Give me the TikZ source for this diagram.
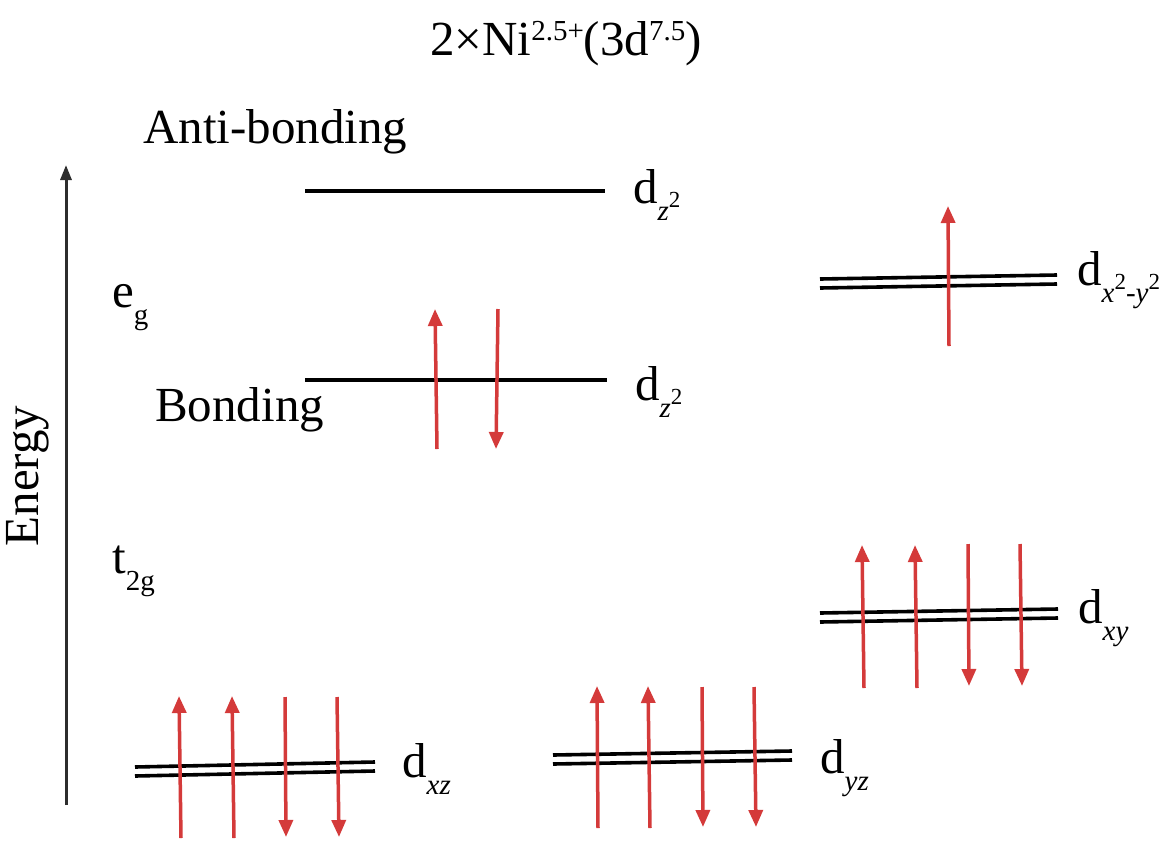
\documentclass[tikz,border=0pt]{standalone}
\usepackage{fontspec}
\setmainfont{Liberation Serif}
\usetikzlibrary{arrows.meta}
\definecolor{spin}{RGB}{212,58,58}
\definecolor{axisc}{RGB}{45,45,45}
\newcommand\bigf{\fontsize{49pt}{58pt}\selectfont}
\newcommand\subf{\fontsize{29pt}{32pt}\selectfont}
\newcommand\supf{\fontsize{29pt}{32pt}\selectfont}
\newcommand\sqf{\fontsize{23pt}{25pt}\selectfont}
\newcommand\sqtwo{\raisebox{0.45em}{\upshape\sqf 2}}
\newcommand\dorb[1]{d\raisebox{-0.36em}{\subf\itshape #1}}
\tikzset{
  lvl/.style={line width=4pt, black},
  dlvl/.style={line width=3.6pt, black},
  spinarrow/.style={spin, line width=3.5pt, -{Triangle[width=14pt,length=17pt]}},
  lbl/.style={anchor=base west, inner sep=0pt},
}
\begin{document}
\begin{tikzpicture}[x=1pt,y=-1pt,font=\bigf]
\useasboundingbox (0,0) rectangle (1171,847);
% title
\node[anchor=base, inner sep=0pt] (title) at (566,55)
  {2×Ni\raisebox{0.3em}{\supf 2.5+}(3d\raisebox{0.3em}{\supf 7.5})};
% energy axis
\coordinate (ax0) at (66,805);
\coordinate (ax1) at (66,165);
\draw[axisc, line width=3pt, -{Triangle[width=11pt,length=15pt]}] (ax0) -- (ax1);
\node[rotate=90, anchor=base, inner sep=0pt] (energy) at (38,476) {Energy};
\node[lbl] (eg) at (112,307) {e\raisebox{-0.36em}{\subf g}};
\node[lbl] (t2g) at (112,573) {t\raisebox{-0.36em}{\subf 2g}};
\node[lbl] (anti) at (143,143) {Anti-bonding};
\node[lbl] (bond) at (155,421) {Bonding};
% dz2 levels
\coordinate (a0) at (305,191); \coordinate (a1) at (605,191);
\draw[lvl] (a0) -- (a1);
\node[lbl] (lab1) at (633,203) {\dorb{z\sqtwo}};
\coordinate (b0) at (305,380); \coordinate (b1) at (607,380);
\draw[lvl] (b0) -- (b1);
\node[lbl] (lab2) at (635,400) {\dorb{z\sqtwo}};
\coordinate (bu0) at (437,449); \coordinate (bu1) at (435,309);
\coordinate (bd0) at (498,309); \coordinate (bd1) at (496,449);
\draw[spinarrow] (bu0) -- (bu1);
\draw[spinarrow] (bd0) -- (bd1);
% dx2-y2
\coordinate (c0) at (820,279); \coordinate (c1) at (1057,275);
\coordinate (c2) at (820,288); \coordinate (c3) at (1057,284);
\draw[dlvl] (c0) -- (c1);
\draw[dlvl] (c2) -- (c3);
\node[lbl] (lab3) at (1077,285) {\dorb{x\sqtwo-y\sqtwo}};
\coordinate (cu0) at (949,346); \coordinate (cu1) at (948,206);
\draw[spinarrow] (cu0) -- (cu1);
% dxy
\coordinate (e0) at (820,613); \coordinate (e1) at (1058,609);
\coordinate (e2) at (820,622); \coordinate (e3) at (1058,618);
\draw[dlvl] (e0) -- (e1);
\draw[dlvl] (e2) -- (e3);
\node[lbl] (lab4) at (1078,623) {\dorb{xy}};
\coordinate (eu0) at (864,688); \coordinate (eu1) at (862,545);
\coordinate (ev0) at (917,688); \coordinate (ev1) at (915,545);
\coordinate (ed0) at (968,544); \coordinate (ed1) at (969,686);
\coordinate (ee0) at (1020,544); \coordinate (ee1) at (1022,686);
\draw[spinarrow] (eu0) -- (eu1);
\draw[spinarrow] (ev0) -- (ev1);
\draw[spinarrow] (ed0) -- (ed1);
\draw[spinarrow] (ee0) -- (ee1);
% dxz
\coordinate (f0) at (135,767); \coordinate (f1) at (375,762);
\coordinate (f2) at (135,776); \coordinate (f3) at (375,771);
\draw[dlvl] (f0) -- (f1);
\draw[dlvl] (f2) -- (f3);
\node[lbl] (lab5) at (402,777) {\dorb{xz}};
\coordinate (fu0) at (181,838); \coordinate (fu1) at (179,696);
\coordinate (fv0) at (234,838); \coordinate (fv1) at (232,696);
\coordinate (fd0) at (285,697); \coordinate (fd1) at (286,837);
\coordinate (fe0) at (337,697); \coordinate (fe1) at (339,837);
\draw[spinarrow] (fu0) -- (fu1);
\draw[spinarrow] (fv0) -- (fv1);
\draw[spinarrow] (fd0) -- (fd1);
\draw[spinarrow] (fe0) -- (fe1);
% dyz
\coordinate (g0) at (553,755); \coordinate (g1) at (792,751);
\coordinate (g2) at (553,764); \coordinate (g3) at (792,760);
\draw[dlvl] (g0) -- (g1);
\draw[dlvl] (g2) -- (g3);
\node[lbl] (lab6) at (820,773) {\dorb{yz}};
\coordinate (gu0) at (598,828); \coordinate (gu1) at (597,686);
\coordinate (gv0) at (650,828); \coordinate (gv1) at (648,686);
\coordinate (gd0) at (702,687); \coordinate (gd1) at (703,827);
\coordinate (ge0) at (754,687); \coordinate (ge1) at (756,827);
\draw[spinarrow] (gu0) -- (gu1);
\draw[spinarrow] (gv0) -- (gv1);
\draw[spinarrow] (gd0) -- (gd1);
\draw[spinarrow] (ge0) -- (ge1);
\end{tikzpicture}
\end{document}
